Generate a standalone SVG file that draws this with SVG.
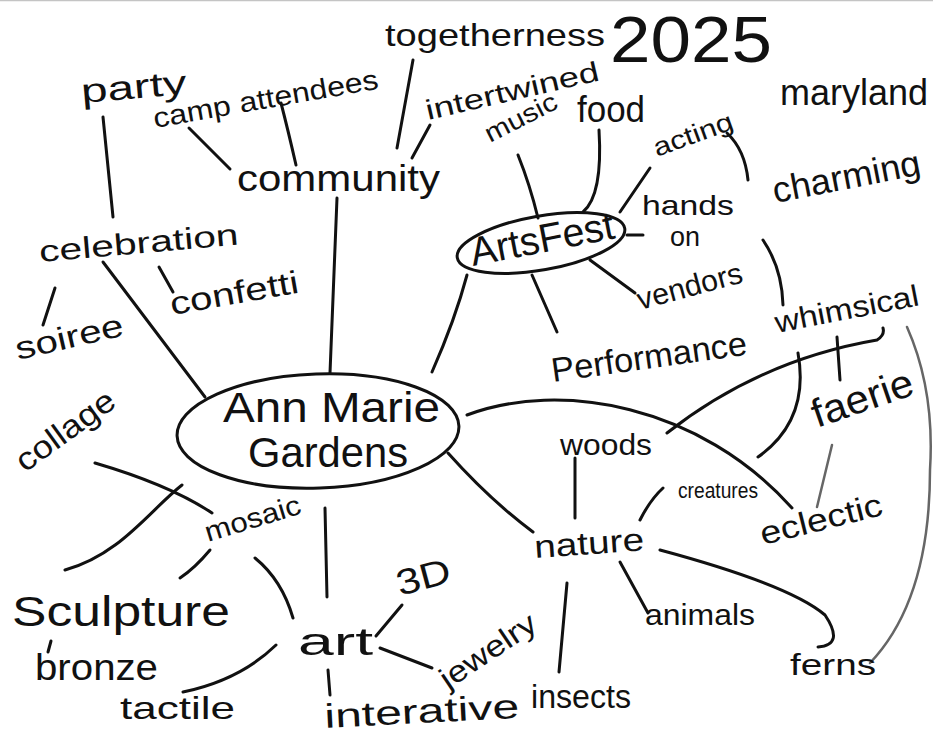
<svg xmlns="http://www.w3.org/2000/svg" width="933" height="736" viewBox="0 0 933 736">
<style>
.t{font-family:"Liberation Sans",Arial,sans-serif;fill:#111;}
.c{fill:none;stroke:#111;stroke-width:3;stroke-linecap:round;stroke-linejoin:round;}
.g{stroke:#666;stroke-width:2.5;}
.e{fill:none;stroke:#111;stroke-width:3;}
</style>
<rect x="0" y="0" width="933" height="736" fill="#fff"/>
<line x1="0" y1="0.5" x2="933" y2="0.5" stroke="#c4c4c4" stroke-width="1.5"/>
<g id="connectors">
<path class="c" d="M413,60 L397,148"/>
<path class="c" d="M430,125 L412,158"/>
<path class="c" d="M189,128 L230,169"/>
<path class="c" d="M281,103 Q288,130 296,165"/>
<path class="c" d="M103,117 L113,217"/>
<path class="c" d="M337,198 Q333,290 330,373"/>
<path class="c" d="M103,262 L205,397"/>
<path class="c" d="M159,267 L173,292"/>
<path class="c" d="M55,288 L43,325"/>
<path class="c" d="M95,463 Q170,485 212,513"/>
<path class="c" d="M182,485 C150,510 120,555 65,570"/>
<path class="c" d="M210,550 Q195,568 180,578"/>
<path class="c" d="M255,558 Q282,580 293,618"/>
<path class="c" d="M325,508 L327,597"/>
<path class="c" d="M376,636 L402,605"/>
<path class="c" d="M380,648 L432,668"/>
<path class="c" d="M328,670 L330,695"/>
<path class="c" d="M276,645 Q240,680 183,692"/>
<path class="c" d="M51,641 L48,652"/>
<path class="c" d="M567,583 L559,672"/>
<path class="c" d="M575,458 L575,518"/>
<path class="c" d="M448,453 Q490,500 533,532"/>
<path class="c" d="M640,520 Q650,500 663,488"/>
<path class="c" d="M620,562 L648,613"/>
<path class="c" d="M660,550 Q790,585 825,615 Q845,645 818,647"/>
<path class="c g" d="M907,327 Q935,390 930,470 Q930,600 870,663"/>
<path class="c" d="M467,415 C560,380 700,405 792,508"/>
<path class="c" d="M667,433 Q760,360 877,340 Q885,335 883,328"/>
<path class="c" d="M798,353 Q810,420 758,457"/>
<path class="c" d="M837,337 L840,380"/>
<path class="c g" d="M832,445 L817,507"/>
<path class="c" d="M518,155 Q530,185 538,218"/>
<path class="c" d="M599,130 Q603,195 583,212"/>
<path class="c" d="M650,168 L620,212"/>
<path class="c" d="M727,133 Q745,150 748,180"/>
<path class="c" d="M627,235 L643,235"/>
<path class="c" d="M590,260 L635,293"/>
<path class="c" d="M532,275 L557,332"/>
<path class="c" d="M467,275 Q455,320 432,372"/>
<path class="c" d="M763,240 Q782,268 783,305"/>
</g>
<g id="n-2025"><text class="t" x="610" y="62" font-size="64" textLength="162" lengthAdjust="spacingAndGlyphs">2025</text></g>
<g id="n-togetherness"><text class="t" x="385" y="46" font-size="32" textLength="220" lengthAdjust="spacingAndGlyphs">togetherness</text></g>
<g id="n-party"><text class="t" x="82" y="103" font-size="34" textLength="106" lengthAdjust="spacingAndGlyphs" transform="rotate(-5 82 103)">party</text></g>
<g id="n-camp-attendees"><text class="t" x="155" y="128" font-size="28" textLength="228" lengthAdjust="spacingAndGlyphs" transform="rotate(-10 155 128)">camp attendees</text></g>
<g id="n-intertwined"><text class="t" x="428" y="120" font-size="28" textLength="177" lengthAdjust="spacingAndGlyphs" transform="rotate(-13 428 120)">intertwined</text></g>
<g id="n-music"><text class="t" x="490" y="143" font-size="26" textLength="78" lengthAdjust="spacingAndGlyphs" transform="rotate(-27 490 143)">music</text></g>
<g id="n-food"><text class="t" x="577" y="122" font-size="36" textLength="68" lengthAdjust="spacingAndGlyphs">food</text></g>
<g id="n-acting"><text class="t" x="657" y="157" font-size="26" textLength="83" lengthAdjust="spacingAndGlyphs" transform="rotate(-20 657 157)">acting</text></g>
<g id="n-maryland"><text class="t" x="780" y="105" font-size="36" textLength="148" lengthAdjust="spacingAndGlyphs">maryland</text></g>
<g id="n-charming"><text class="t" x="775" y="203" font-size="36" textLength="150" lengthAdjust="spacingAndGlyphs" transform="rotate(-11 775 203)">charming</text></g>
<g id="n-community"><text class="t" x="237" y="191" font-size="36" textLength="203" lengthAdjust="spacingAndGlyphs">community</text></g>
<g id="n-hands-on"><text class="t" font-size="28"><tspan x="642" y="215" textLength="92" lengthAdjust="spacingAndGlyphs">hands</tspan><tspan x="670" y="246" textLength="30" lengthAdjust="spacingAndGlyphs">on</tspan></text></g>
<g id="n-artsfest"><ellipse class="e" cx="541" cy="243" rx="85" ry="27" transform="rotate(-10 541 243)"/><text class="t" x="473" y="266" font-size="40" textLength="146" lengthAdjust="spacingAndGlyphs" transform="rotate(-11 473 266)">ArtsFest</text></g>
<g id="n-vendors"><text class="t" x="640" y="310" font-size="30" textLength="108" lengthAdjust="spacingAndGlyphs" transform="rotate(-15 640 310)">vendors</text></g>
<g id="n-performance"><text class="t" x="553" y="382" font-size="34" textLength="197" lengthAdjust="spacingAndGlyphs" transform="rotate(-8 553 382)">Performance</text></g>
<g id="n-whimsical"><text class="t" x="777" y="333" font-size="30" textLength="146" lengthAdjust="spacingAndGlyphs" transform="rotate(-11 777 333)">whimsical</text></g>
<g id="n-faerie"><text class="t" x="817" y="428" font-size="40" textLength="105" lengthAdjust="spacingAndGlyphs" transform="rotate(-19 817 428)">faerie</text></g>
<g id="n-eclectic"><text class="t" x="763" y="545" font-size="32" textLength="125" lengthAdjust="spacingAndGlyphs" transform="rotate(-14 763 545)">eclectic</text></g>
<g id="n-celebration"><text class="t" x="40" y="262" font-size="30" textLength="200" lengthAdjust="spacingAndGlyphs" transform="rotate(-5 40 262)">celebration</text></g>
<g id="n-confetti"><text class="t" x="172" y="315" font-size="32" textLength="130" lengthAdjust="spacingAndGlyphs" transform="rotate(-10 172 315)">confetti</text></g>
<g id="n-soiree"><text class="t" x="18" y="360" font-size="32" textLength="110" lengthAdjust="spacingAndGlyphs" transform="rotate(-13 18 360)">soiree</text></g>
<g id="n-collage"><text class="t" x="25" y="473" font-size="32" textLength="115" lengthAdjust="spacingAndGlyphs" transform="rotate(-36 25 473)">collage</text></g>
<g id="n-ann-marie-gardens"><ellipse class="e" cx="318" cy="431" rx="141" ry="57" transform="rotate(-2 318 431)"/><text class="t" font-size="42"><tspan x="223" y="422" textLength="217" lengthAdjust="spacingAndGlyphs">Ann Marie</tspan><tspan x="248" y="467" textLength="160" lengthAdjust="spacingAndGlyphs">Gardens</tspan></text></g>
<g id="n-mosaic"><text class="t" x="208" y="542" font-size="28" textLength="99" lengthAdjust="spacingAndGlyphs" transform="rotate(-17 208 542)">mosaic</text></g>
<g id="n-sculpture"><text class="t" x="12" y="626" font-size="42" textLength="218" lengthAdjust="spacingAndGlyphs">Sculpture</text></g>
<g id="n-bronze"><text class="t" x="35" y="680" font-size="36" textLength="123" lengthAdjust="spacingAndGlyphs">bronze</text></g>
<g id="n-tactile"><text class="t" x="120" y="719" font-size="32" textLength="115" lengthAdjust="spacingAndGlyphs">tactile</text></g>
<g id="n-art"><text class="t" x="298" y="655" font-size="38" textLength="75" lengthAdjust="spacingAndGlyphs">art</text></g>
<g id="n-3d"><text class="t" x="400" y="596" font-size="36" textLength="55" lengthAdjust="spacingAndGlyphs" transform="rotate(-15 400 596)">3D</text></g>
<g id="n-jewelry"><text class="t" x="448" y="690" font-size="30" textLength="110" lengthAdjust="spacingAndGlyphs" transform="rotate(-34 448 690)">jewelry</text></g>
<g id="n-interative"><text class="t" x="325" y="728" font-size="34" textLength="195" lengthAdjust="spacingAndGlyphs" transform="rotate(-3 325 728)">interative</text></g>
<g id="n-insects"><text class="t" x="531" y="708" font-size="34" textLength="100" lengthAdjust="spacingAndGlyphs">insects</text></g>
<g id="n-nature"><text class="t" x="535" y="558" font-size="32" textLength="110" lengthAdjust="spacingAndGlyphs" transform="rotate(-4 535 558)">nature</text></g>
<g id="n-animals"><text class="t" x="645" y="625" font-size="30" textLength="110" lengthAdjust="spacingAndGlyphs">animals</text></g>
<g id="n-ferns"><text class="t" x="790" y="675" font-size="30" textLength="86" lengthAdjust="spacingAndGlyphs">ferns</text></g>
<g id="n-woods"><text class="t" x="560" y="455" font-size="30" textLength="92" lengthAdjust="spacingAndGlyphs">woods</text></g>
<g id="n-creatures"><text class="t" x="678" y="498" font-size="22" textLength="80" lengthAdjust="spacingAndGlyphs">creatures</text></g>
</svg>
